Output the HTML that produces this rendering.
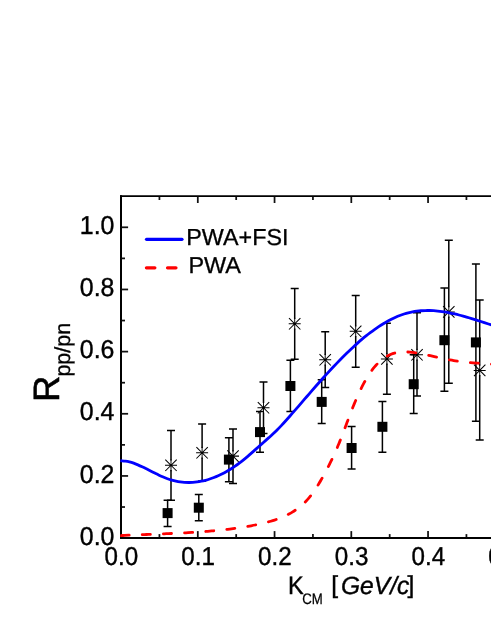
<!DOCTYPE html>
<html><head><meta charset="utf-8"><title>Rpp/pn</title>
<style>
html,body{margin:0;padding:0;background:#fff;}
body{width:491px;height:635px;overflow:hidden;}
svg{display:block;will-change:transform;opacity:0.999;}
text{font-family:"Liberation Sans",sans-serif;fill:#000;text-rendering:geometricPrecision;}
</style></head><body>
<svg width="491" height="635" viewBox="0 0 491 635">
<rect x="0" y="0" width="491" height="635" fill="#fff"/>

<g stroke="#000" stroke-width="1.7" fill="none" stroke-linecap="butt">
<path d="M121.0 195.3 V539.0" stroke-width="2.0"/>
<path d="M120.0 196.15 H491" stroke-width="1.7"/>
<path d="M120.0 538.0 H491" stroke-width="2.0"/>
</g>
<g stroke="#111" stroke-width="1.75" fill="none">
<path d="M159.43 537.40 v-3.30"/>
<path d="M159.43 196.70 v3.30"/>
<path d="M197.80 537.40 v-6.30"/>
<path d="M197.80 196.70 v6.30"/>
<path d="M236.18 537.40 v-3.30"/>
<path d="M236.18 196.70 v3.30"/>
<path d="M274.55 537.40 v-6.30"/>
<path d="M274.55 196.70 v6.30"/>
<path d="M312.93 537.40 v-3.30"/>
<path d="M312.93 196.70 v3.30"/>
<path d="M351.30 537.40 v-6.30"/>
<path d="M351.30 196.70 v6.30"/>
<path d="M389.68 537.40 v-3.30"/>
<path d="M389.68 196.70 v3.30"/>
<path d="M428.05 537.40 v-6.30"/>
<path d="M428.05 196.70 v6.30"/>
<path d="M466.43 537.40 v-3.30"/>
<path d="M466.43 196.70 v3.30"/>
<path d="M121.50 507.02 h3.50"/>
<path d="M121.50 475.94 h6.60"/>
<path d="M121.50 444.86 h3.50"/>
<path d="M121.50 413.78 h6.60"/>
<path d="M121.50 382.70 h3.50"/>
<path d="M121.50 351.62 h6.60"/>
<path d="M121.50 320.54 h3.50"/>
<path d="M121.50 289.46 h6.60"/>
<path d="M121.50 258.38 h3.50"/>
<path d="M121.50 227.30 h6.60"/>
</g>
<g font-size="25.9px" stroke="#000" stroke-width="0.4">
<text x="121.30" y="565" text-anchor="middle" textLength="33.6" lengthAdjust="spacingAndGlyphs">0.0</text>
<text x="198.05" y="565" text-anchor="middle" textLength="33.6" lengthAdjust="spacingAndGlyphs">0.1</text>
<text x="274.80" y="565" text-anchor="middle" textLength="33.6" lengthAdjust="spacingAndGlyphs">0.2</text>
<text x="351.55" y="565" text-anchor="middle" textLength="33.6" lengthAdjust="spacingAndGlyphs">0.3</text>
<text x="428.30" y="565" text-anchor="middle" textLength="33.6" lengthAdjust="spacingAndGlyphs">0.4</text>
<text x="505.05" y="565" text-anchor="middle" textLength="33.6" lengthAdjust="spacingAndGlyphs">0.5</text>
<text x="114.4" y="545.20" text-anchor="end" textLength="34.6" lengthAdjust="spacingAndGlyphs">0.0</text>
<text x="114.4" y="482.64" text-anchor="end" textLength="34.6" lengthAdjust="spacingAndGlyphs">0.2</text>
<text x="114.4" y="420.48" text-anchor="end" textLength="34.6" lengthAdjust="spacingAndGlyphs">0.4</text>
<text x="114.4" y="358.32" text-anchor="end" textLength="34.6" lengthAdjust="spacingAndGlyphs">0.6</text>
<text x="114.4" y="296.16" text-anchor="end" textLength="34.6" lengthAdjust="spacingAndGlyphs">0.8</text>
<text x="114.4" y="234.00" text-anchor="end" textLength="34.6" lengthAdjust="spacingAndGlyphs">1.0</text>
</g>
<g transform="translate(58.7 402) rotate(-90)" stroke="#000">
<text x="-0.1" y="0" font-size="36.6px" stroke-width="0.6">R</text>
<text x="25.4" y="11.5" font-size="21.8px" stroke-width="0.3" textLength="53.8" lengthAdjust="spacingAndGlyphs">pp/pn</text>
</g>
<g stroke="#000" stroke-width="0.4">
<text x="288" y="593.8" font-size="25.3px" textLength="15.7" lengthAdjust="spacingAndGlyphs">K</text>
<text x="302.3" y="604.4" font-size="15.2px" stroke-width="0.25" textLength="20.5" lengthAdjust="spacingAndGlyphs">CM</text>
<text x="331.3" y="593.4" font-size="24.6px">[</text>
<text x="341" y="594" font-size="24.9px" font-style="italic" textLength="68.3" lengthAdjust="spacingAndGlyphs">GeV/c</text>
<text x="407.5" y="593.4" font-size="24.6px">]</text>
</g>
<g stroke="#000" stroke-width="1.5" fill="none">
<path d="M167.60 500.20 V526.40 M163.60 500.20 h8 M163.60 526.40 h8"/>
<path d="M198.80 494.40 V520.70 M194.80 494.40 h8 M194.80 520.70 h8"/>
<path d="M228.90 437.70 V481.70 M224.90 437.70 h8 M224.90 481.70 h8"/>
<path d="M260.00 411.40 V452.30 M256.00 411.40 h8 M256.00 452.30 h8"/>
<path d="M290.40 360.30 V411.40 M286.40 360.30 h8 M286.40 411.40 h8"/>
<path d="M321.70 379.70 V423.50 M317.70 379.70 h8 M317.70 423.50 h8"/>
<path d="M351.60 426.50 V469.10 M347.60 426.50 h8 M347.60 469.10 h8"/>
<path d="M382.40 401.40 V452.20 M378.40 401.40 h8 M378.40 452.20 h8"/>
<path d="M413.70 354.80 V413.60 M409.70 354.80 h8 M409.70 413.60 h8"/>
<path d="M444.40 288.00 V391.20 M440.40 288.00 h8 M440.40 391.20 h8"/>
<path d="M475.90 264.10 V421.20 M471.90 264.10 h8 M471.90 421.20 h8"/>
</g>
<g fill="#000">
<rect x="162.60" y="508.10" width="10" height="10"/>
<rect x="193.80" y="502.70" width="10" height="10"/>
<rect x="223.90" y="454.60" width="10" height="10"/>
<rect x="255.00" y="427.10" width="10" height="10"/>
<rect x="285.40" y="381.00" width="10" height="10"/>
<rect x="316.70" y="396.90" width="10" height="10"/>
<rect x="346.60" y="443.00" width="10" height="10"/>
<rect x="377.40" y="421.80" width="10" height="10"/>
<rect x="408.70" y="379.20" width="10" height="10"/>
<rect x="439.40" y="335.20" width="10" height="10"/>
<rect x="470.90" y="337.40" width="10" height="10"/>
</g>
<g stroke="#000" stroke-width="1.5" fill="none">
<path d="M171.00 430.50 V460.60 M171.00 470.00 V500.20 M167.00 430.50 h8 M167.00 500.20 h8"/>
<path d="M202.10 423.90 V448.10 M202.10 457.50 V480.90 M198.10 423.90 h8 M198.10 480.90 h8"/>
<path d="M233.00 429.10 V451.40 M233.00 460.80 V483.40 M229.00 429.10 h8 M229.00 483.40 h8"/>
<path d="M263.50 382.10 V403.10 M263.50 412.50 V433.50 M259.50 382.10 h8 M259.50 433.50 h8"/>
<path d="M294.70 288.60 V319.10 M294.70 328.50 V359.20 M290.70 288.60 h8 M290.70 359.20 h8"/>
<path d="M325.20 331.80 V355.10 M325.20 364.50 V387.40 M321.20 331.80 h8 M321.20 387.40 h8"/>
<path d="M355.70 295.50 V326.60 M355.70 336.00 V367.30 M351.70 295.50 h8 M351.70 367.30 h8"/>
<path d="M386.90 323.20 V354.20 M386.90 363.60 V394.20 M382.90 323.20 h8 M382.90 394.20 h8"/>
<path d="M417.00 312.70 V350.10 M417.00 359.50 V396.00 M413.00 312.70 h8 M413.00 396.00 h8"/>
<path d="M448.80 240.20 V307.20 M448.80 316.60 V383.30 M444.80 240.20 h8 M444.80 383.30 h8"/>
<path d="M479.70 300.10 V365.70 M479.70 375.10 V440.10 M475.70 300.10 h8 M475.70 440.10 h8"/>
</g>
<g stroke="#000" stroke-width="1.05" fill="none">
<path d="M165.00 465.30 h12 M165.30 459.60 L176.70 471.00 M165.30 471.00 L176.70 459.60"/>
<path d="M196.10 452.80 h12 M196.40 447.10 L207.80 458.50 M196.40 458.50 L207.80 447.10"/>
<path d="M227.00 456.10 h12 M227.30 450.40 L238.70 461.80 M227.30 461.80 L238.70 450.40"/>
<path d="M257.50 407.80 h12 M257.80 402.10 L269.20 413.50 M257.80 413.50 L269.20 402.10"/>
<path d="M288.70 323.80 h12 M289.00 318.10 L300.40 329.50 M289.00 329.50 L300.40 318.10"/>
<path d="M319.20 359.80 h12 M319.50 354.10 L330.90 365.50 M319.50 365.50 L330.90 354.10"/>
<path d="M349.70 331.30 h12 M350.00 325.60 L361.40 337.00 M350.00 337.00 L361.40 325.60"/>
<path d="M380.90 358.90 h12 M381.20 353.20 L392.60 364.60 M381.20 364.60 L392.60 353.20"/>
<path d="M411.00 354.80 h12 M411.30 349.10 L422.70 360.50 M411.30 360.50 L422.70 349.10"/>
<path d="M442.80 311.90 h12 M443.10 306.20 L454.50 317.60 M443.10 317.60 L454.50 306.20"/>
<path d="M473.70 370.40 h12 M474.00 364.70 L485.40 376.10 M474.00 376.10 L485.40 364.70"/>
</g>
<g stroke="#000" stroke-width="0.95" fill="none">
<path d="M171.00 459.30 v12"/>
<path d="M202.10 446.80 v12"/>
<path d="M233.00 450.10 v12"/>
<path d="M263.50 401.80 v12"/>
<path d="M294.70 317.80 v12"/>
<path d="M325.20 353.80 v12"/>
<path d="M355.70 325.30 v12"/>
<path d="M386.90 352.90 v12"/>
<path d="M417.00 348.80 v12"/>
<path d="M448.80 305.90 v12"/>
<path d="M479.70 364.40 v12"/>
</g>
<g fill="#000">
<circle cx="171.00" cy="465.30" r="1.1"/>
<circle cx="202.10" cy="452.80" r="1.1"/>
<circle cx="233.00" cy="456.10" r="1.1"/>
<circle cx="263.50" cy="407.80" r="1.1"/>
<circle cx="294.70" cy="323.80" r="1.1"/>
<circle cx="325.20" cy="359.80" r="1.1"/>
<circle cx="355.70" cy="331.30" r="1.1"/>
<circle cx="386.90" cy="358.90" r="1.1"/>
<circle cx="417.00" cy="354.80" r="1.1"/>
<circle cx="448.80" cy="311.90" r="1.1"/>
<circle cx="479.70" cy="370.40" r="1.1"/>
</g>
<defs><clipPath id="pc"><rect x="120.2" y="196" width="380" height="342"/></clipPath></defs>
<path d="M120.20 460.64 C120.33 460.65 120.16 460.66 121.00 460.73 C121.84 460.80 123.82 460.88 125.22 461.06 C126.63 461.25 128.04 461.49 129.45 461.83 C130.86 462.18 132.27 462.63 133.67 463.13 C135.08 463.64 136.49 464.24 137.90 464.84 C139.31 465.45 140.72 466.10 142.12 466.77 C143.53 467.44 144.94 468.14 146.35 468.84 C147.76 469.54 149.16 470.26 150.57 470.97 C151.98 471.69 153.39 472.41 154.80 473.10 C156.21 473.80 157.61 474.50 159.02 475.15 C160.43 475.81 161.84 476.45 163.25 477.05 C164.66 477.64 166.06 478.21 167.47 478.71 C168.88 479.22 170.29 479.68 171.70 480.08 C173.10 480.48 174.51 480.84 175.92 481.14 C177.33 481.44 178.74 481.69 180.15 481.89 C181.55 482.09 182.96 482.24 184.37 482.34 C185.78 482.44 187.19 482.49 188.60 482.49 C190.00 482.50 191.41 482.45 192.82 482.36 C194.23 482.27 195.64 482.13 197.04 481.94 C198.45 481.76 199.86 481.52 201.27 481.24 C202.68 480.97 204.09 480.64 205.49 480.28 C206.90 479.91 208.31 479.50 209.72 479.04 C211.13 478.59 212.54 478.09 213.94 477.55 C215.35 477.00 216.76 476.42 218.17 475.79 C219.58 475.17 220.99 474.50 222.39 473.79 C223.80 473.08 225.21 472.32 226.62 471.52 C228.03 470.72 229.43 469.88 230.84 469.00 C232.25 468.11 233.66 467.18 235.07 466.21 C236.48 465.24 237.88 464.22 239.29 463.16 C240.70 462.10 242.11 460.99 243.52 459.85 C244.93 458.71 246.33 457.52 247.74 456.32 C249.15 455.12 250.56 453.88 251.97 452.64 C253.37 451.40 254.78 450.14 256.19 448.88 C257.60 447.63 259.01 446.36 260.42 445.11 C261.82 443.86 263.23 442.62 264.64 441.38 C266.05 440.14 267.46 438.92 268.87 437.67 C270.27 436.41 271.68 435.15 273.09 433.83 C274.50 432.52 275.91 431.16 277.31 429.75 C278.72 428.34 280.13 426.86 281.54 425.36 C282.95 423.86 284.36 422.30 285.76 420.74 C287.17 419.18 288.58 417.59 289.99 416.00 C291.40 414.40 292.81 412.79 294.21 411.18 C295.62 409.56 297.03 407.93 298.44 406.30 C299.85 404.67 301.25 403.03 302.66 401.39 C304.07 399.76 305.48 398.12 306.89 396.49 C308.30 394.86 309.70 393.23 311.11 391.60 C312.52 389.98 313.93 388.37 315.34 386.76 C316.75 385.16 318.15 383.56 319.56 381.98 C320.97 380.39 322.38 378.82 323.79 377.26 C325.19 375.69 326.60 374.14 328.01 372.61 C329.42 371.08 330.83 369.55 332.24 368.05 C333.64 366.55 335.05 365.06 336.46 363.59 C337.87 362.12 339.28 360.67 340.69 359.23 C342.09 357.80 343.50 356.39 344.91 355.00 C346.32 353.61 347.73 352.23 349.13 350.89 C350.54 349.54 351.95 348.22 353.36 346.92 C354.77 345.62 356.18 344.35 357.58 343.10 C358.99 341.85 360.40 340.63 361.81 339.44 C363.22 338.25 364.63 337.09 366.03 335.95 C367.44 334.82 368.85 333.72 370.26 332.65 C371.67 331.58 373.07 330.54 374.48 329.54 C375.89 328.53 377.30 327.56 378.71 326.63 C380.12 325.69 381.52 324.79 382.93 323.93 C384.34 323.07 385.75 322.24 387.16 321.45 C388.57 320.67 389.97 319.92 391.38 319.22 C392.79 318.51 394.20 317.84 395.61 317.22 C397.01 316.60 398.42 316.02 399.83 315.49 C401.24 314.95 402.65 314.46 404.06 314.01 C405.46 313.57 406.87 313.17 408.28 312.82 C409.69 312.46 411.10 312.15 412.51 311.89 C413.91 311.62 415.32 311.39 416.73 311.20 C418.14 311.02 419.55 310.87 420.96 310.76 C422.36 310.65 423.77 310.57 425.18 310.53 C426.59 310.49 428.00 310.49 429.40 310.52 C430.81 310.54 432.22 310.60 433.63 310.69 C435.04 310.78 436.45 310.90 437.85 311.05 C439.26 311.19 440.67 311.37 442.08 311.57 C443.49 311.76 444.90 311.99 446.30 312.23 C447.71 312.48 449.12 312.75 450.53 313.04 C451.94 313.33 453.34 313.64 454.75 313.96 C456.16 314.29 457.57 314.63 458.98 314.99 C460.39 315.35 461.79 315.73 463.20 316.12 C464.61 316.50 466.02 316.91 467.43 317.32 C468.84 317.73 470.24 318.15 471.65 318.58 C473.06 319.01 474.47 319.45 475.88 319.90 C477.28 320.34 478.69 320.79 480.10 321.24 C481.51 321.70 482.92 322.16 484.33 322.61 C485.73 323.07 487.14 323.53 488.55 323.99 C489.96 324.44 491.37 324.90 492.78 325.35 C494.18 325.80 496.30 326.47 497.00 326.70" stroke="#0000ff" stroke-width="2.8" fill="none" stroke-linejoin="round" clip-path="url(#pc)"/>
<path d="M120.50 535.61 C121.17 535.58 123.18 535.48 124.51 535.41 C125.85 535.35 127.19 535.28 128.52 535.22 C129.86 535.16 131.19 535.10 132.52 535.05 C133.85 534.99 135.18 534.93 136.51 534.88 C137.84 534.82 139.17 534.77 140.50 534.72 C141.83 534.66 143.16 534.61 144.48 534.56 C145.81 534.51 147.13 534.46 148.46 534.41 C149.78 534.36 151.11 534.31 152.43 534.26 C153.75 534.21 155.07 534.16 156.39 534.11 C157.71 534.05 159.04 534.00 160.35 533.95 C161.67 533.90 162.99 533.85 164.31 533.80 C165.63 533.74 166.95 533.69 168.27 533.63 C169.58 533.58 170.90 533.52 172.22 533.46 C173.53 533.41 174.85 533.35 176.16 533.29 C177.48 533.22 178.80 533.16 180.11 533.10 C181.43 533.03 182.74 532.96 184.05 532.89 C185.37 532.82 186.68 532.75 188.00 532.68 C189.31 532.60 190.62 532.52 191.94 532.44 C193.25 532.36 194.57 532.28 195.88 532.19 C197.19 532.10 198.51 532.01 199.82 531.92 C201.13 531.83 202.45 531.73 203.76 531.63 C205.07 531.53 206.39 531.42 207.70 531.31 C209.01 531.20 210.33 531.09 211.64 530.97 C212.96 530.85 214.27 530.73 215.59 530.60 C216.90 530.47 218.22 530.34 219.53 530.20 C220.85 530.06 222.16 529.92 223.48 529.77 C224.79 529.62 226.11 529.47 227.43 529.31 C228.74 529.15 230.06 528.99 231.38 528.81 C232.70 528.64 234.02 528.47 235.34 528.28 C236.66 528.10 237.98 527.91 239.30 527.71 C240.62 527.52 241.94 527.31 243.26 527.10 C244.58 526.89 245.91 526.68 247.23 526.45 C248.55 526.23 249.88 526.00 251.20 525.76 C252.52 525.52 253.85 525.27 255.16 525.00 C256.48 524.74 257.80 524.47 259.11 524.19 C260.43 523.90 261.73 523.61 263.04 523.29 C264.34 522.98 265.64 522.66 266.92 522.31 C268.21 521.97 269.49 521.61 270.76 521.23 C272.04 520.85 273.30 520.46 274.55 520.05 C275.80 519.63 277.04 519.20 278.27 518.74 C279.50 518.28 280.72 517.80 281.92 517.30 C283.12 516.80 284.31 516.28 285.48 515.73 C286.65 515.17 287.81 514.60 288.95 514.00 C290.09 513.39 291.21 512.77 292.31 512.11 C293.41 511.45 294.50 510.76 295.56 510.05 C296.62 509.33 297.66 508.58 298.68 507.80 C299.70 507.02 300.70 506.21 301.68 505.36 C302.65 504.52 303.60 503.63 304.52 502.72 C305.45 501.81 306.35 500.85 307.23 499.88 C308.10 498.90 308.96 497.89 309.79 496.86 C310.63 495.83 311.44 494.76 312.24 493.69 C313.04 492.61 313.81 491.51 314.58 490.39 C315.34 489.27 316.08 488.14 316.81 486.99 C317.54 485.85 318.26 484.69 318.96 483.52 C319.66 482.36 320.35 481.18 321.03 480.00 C321.71 478.82 322.38 477.64 323.04 476.45 C323.70 475.27 324.35 474.09 324.99 472.90 C325.63 471.72 326.26 470.54 326.89 469.35 C327.51 468.16 328.12 466.98 328.73 465.79 C329.33 464.60 329.93 463.42 330.52 462.23 C331.10 461.04 331.68 459.85 332.25 458.66 C332.82 457.46 333.38 456.27 333.93 455.07 C334.48 453.88 335.02 452.68 335.55 451.48 C336.08 450.28 336.61 449.08 337.12 447.88 C337.64 446.68 338.14 445.47 338.64 444.26 C339.14 443.06 339.62 441.85 340.11 440.63 C340.59 439.42 341.07 438.21 341.54 436.99 C342.02 435.78 342.48 434.56 342.95 433.34 C343.41 432.13 343.87 430.90 344.33 429.68 C344.80 428.46 345.25 427.24 345.71 426.02 C346.17 424.79 346.63 423.57 347.09 422.34 C347.54 421.11 348.00 419.89 348.47 418.66 C348.93 417.43 349.39 416.20 349.86 414.97 C350.33 413.74 350.81 412.51 351.29 411.28 C351.77 410.05 352.25 408.82 352.74 407.59 C353.24 406.35 353.73 405.12 354.24 403.89 C354.75 402.66 355.27 401.42 355.79 400.19 C356.32 398.96 356.85 397.73 357.40 396.49 C357.95 395.26 358.51 394.03 359.08 392.80 C359.65 391.56 360.24 390.33 360.84 389.10 C361.44 387.87 362.05 386.64 362.68 385.42 C363.31 384.20 363.96 382.98 364.62 381.77 C365.28 380.57 365.96 379.38 366.66 378.20 C367.36 377.03 368.07 375.87 368.81 374.73 C369.55 373.60 370.30 372.48 371.08 371.40 C371.86 370.31 372.65 369.25 373.48 368.22 C374.30 367.20 375.14 366.20 376.01 365.24 C376.88 364.28 377.77 363.36 378.68 362.48 C379.60 361.61 380.54 360.77 381.51 359.98 C382.48 359.20 383.47 358.45 384.50 357.77 C385.52 357.08 386.57 356.44 387.65 355.86 C388.73 355.29 389.84 354.77 390.98 354.31 C392.12 353.85 393.29 353.46 394.49 353.13 C395.69 352.81 396.93 352.55 398.19 352.36 C399.46 352.17 400.76 352.05 402.07 351.98 C403.38 351.91 404.72 351.90 406.07 351.94 C407.41 351.97 408.78 352.05 410.14 352.17 C411.50 352.28 412.87 352.44 414.24 352.62 C415.60 352.80 416.96 353.01 418.31 353.24 C419.66 353.46 421.01 353.71 422.35 353.97 C423.69 354.23 425.02 354.51 426.35 354.80 C427.68 355.08 429.00 355.38 430.32 355.68 C431.64 355.98 432.95 356.29 434.26 356.60 C435.57 356.91 436.88 357.22 438.18 357.52 C439.48 357.82 440.78 358.12 442.08 358.41 C443.38 358.69 444.68 358.97 445.97 359.24 C447.27 359.50 448.56 359.75 449.85 359.98 C451.14 360.21 452.44 360.43 453.73 360.63 C455.02 360.83 456.31 361.01 457.60 361.19 C458.90 361.36 460.19 361.52 461.48 361.67 C462.78 361.82 464.07 361.96 465.37 362.10 C466.66 362.23 467.96 362.35 469.26 362.47 C470.56 362.59 471.86 362.70 473.17 362.81 C474.47 362.91 475.78 363.02 477.09 363.12 C478.40 363.22 479.72 363.32 481.04 363.42 C482.36 363.51 483.68 363.61 485.01 363.71 C486.33 363.81 487.66 363.92 489.00 364.02 C490.34 364.13 491.68 364.24 493.03 364.35 C494.37 364.47 496.41 364.66 497.08 364.72" stroke="#ff0000" stroke-width="2.8" fill="none" stroke-dasharray="8.1 13.08" stroke-dashoffset="-0.6" stroke-linecap="round" stroke-linejoin="round" clip-path="url(#pc)"/>
<path d="M146.5 239.3 H182" stroke="#0000ff" stroke-width="3.2" fill="none" stroke-linecap="round"/>
<path d="M146.45 267.8 H176" stroke="#ff0000" stroke-width="3.3" fill="none" stroke-dasharray="8.4 12.7" stroke-linecap="round"/>
<text x="186.3" y="244.5" font-size="23.1px" stroke="#000" stroke-width="0.3" textLength="102.2" lengthAdjust="spacingAndGlyphs">PWA+FSI</text>
<text x="188.4" y="272.9" font-size="22.9px" stroke="#000" stroke-width="0.3" textLength="52.6" lengthAdjust="spacingAndGlyphs">PWA</text>
</svg></body></html>
